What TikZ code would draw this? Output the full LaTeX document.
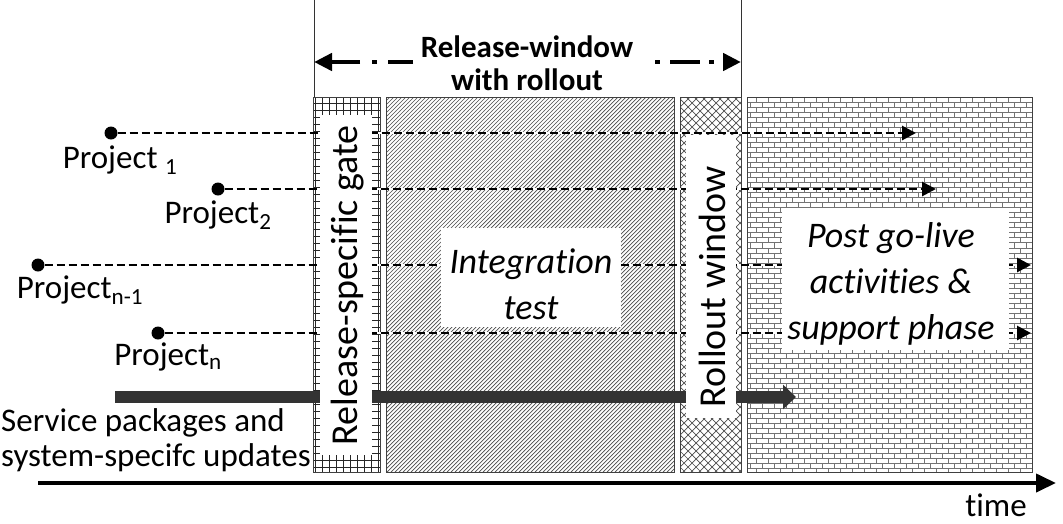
\documentclass[tikz,border=0pt]{standalone}
\usepackage{fontspec}
\setmainfont[Ligatures={NoCommon}]{Carlito}
\usetikzlibrary{patterns,arrows.meta}

\pgfdeclarepatternformonly{mygrid}{\pgfqpoint{-1pt}{-1pt}}{\pgfqpoint{8pt}{8pt}}{\pgfqpoint{7pt}{7pt}}{%
  \pgfsetlinewidth{0.8pt}%
  \pgfpathmoveto{\pgfqpoint{0pt}{0pt}}\pgfpathlineto{\pgfqpoint{7.1pt}{0pt}}%
  \pgfpathmoveto{\pgfqpoint{0pt}{0pt}}\pgfpathlineto{\pgfqpoint{0pt}{7.1pt}}%
  \pgfusepath{stroke}}
\pgfdeclarepatternformonly{myhatch}{\pgfqpoint{-1pt}{-1pt}}{\pgfqpoint{5pt}{5pt}}{\pgfqpoint{4pt}{4pt}}{%
  \pgfsetlinewidth{0.7pt}%
  \pgfpathmoveto{\pgfqpoint{0pt}{0pt}}\pgfpathlineto{\pgfqpoint{4.1pt}{4.1pt}}%
  \pgfusepath{stroke}}
\pgfdeclarepatternformonly{mycross}{\pgfqpoint{-1pt}{-1pt}}{\pgfqpoint{9pt}{9pt}}{\pgfqpoint{8pt}{8pt}}{%
  \pgfsetlinewidth{0.7pt}%
  \pgfpathmoveto{\pgfqpoint{0pt}{0pt}}\pgfpathlineto{\pgfqpoint{8.1pt}{8.1pt}}%
  \pgfpathmoveto{\pgfqpoint{0pt}{8pt}}\pgfpathlineto{\pgfqpoint{8.1pt}{-0.1pt}}%
  \pgfusepath{stroke}}
\pgfdeclarepatternformonly{mybricks}{\pgfqpoint{-1pt}{-1pt}}{\pgfqpoint{13pt}{11pt}}{\pgfqpoint{12pt}{10pt}}{%
  \pgfsetlinewidth{1pt}%
  \pgfpathmoveto{\pgfqpoint{0pt}{0pt}}\pgfpathlineto{\pgfqpoint{12.1pt}{0pt}}%
  \pgfpathmoveto{\pgfqpoint{0pt}{5pt}}\pgfpathlineto{\pgfqpoint{12.1pt}{5pt}}%
  \pgfpathmoveto{\pgfqpoint{0pt}{0pt}}\pgfpathlineto{\pgfqpoint{0pt}{5pt}}%
  \pgfpathmoveto{\pgfqpoint{6pt}{5pt}}\pgfpathlineto{\pgfqpoint{6pt}{10pt}}%
  \pgfusepath{stroke}}

\begin{document}
\begin{tikzpicture}[x=1pt,y=-1pt,
  phase/.style={draw=black!75, line width=0.8pt, anchor=north west, inner sep=0pt},
  whitebox/.style={fill=white, draw=none, anchor=north west, inner sep=0pt},
  proj/.style={line width=2.8pt, dash pattern=on 8pt off 4pt,
     preaction={draw=white, line width=2.8pt, solid, -, shorten >=6pt},
     -{Triangle[length=14pt,width=14pt]}},
  dotnode/.style={circle, fill=black, inner sep=0pt, minimum size=13pt},
  lbl/.style={font=\fontsize{33}{35}\selectfont, inner sep=0pt},
  rot/.style={font=\fontsize{38}{40}\selectfont, inner sep=0pt, rotate=90},
  big/.style={font=\fontsize{36}{46}\selectfont\itshape, align=center, inner sep=0pt},
  rwarrow/.style={line width=4.5pt, -{Triangle[length=18pt,width=17pt]}},
]
\useasboundingbox (0,0) rectangle (1063,523);

% phase boxes
\node[phase, pattern=mygrid, pattern color=black!85, minimum width=67pt, minimum height=375pt] (gate) at (313,97) {};
\node[phase, pattern=myhatch, pattern color=black!70, minimum width=288pt, minimum height=375pt] (integ) at (386,97) {};
\node[phase, pattern=mycross, pattern color=black!70, minimum width=61pt, minimum height=375pt] (roll) at (680,97) {};
\node[phase, pattern=mybricks, pattern color=black!55, minimum width=285pt, minimum height=375pt] (post) at (747,97) {};

% vertical markers
\coordinate (vlt) at (314,0);
\coordinate (vlb) at (314,97);
\coordinate (vrt) at (741,0);
\coordinate (vrb) at (741,97);
\draw[black!80, line width=0.8pt] (vlt) -- (vlb);
\draw[black!80, line width=0.8pt] (vrt) -- (vrb);

% release window arrow (two halves around the title)
\coordinate (rwl) at (314,62);
\coordinate (rwr) at (741,62);
\coordinate (rwli) at (413,62);
\coordinate (rwri) at (655,62);
\draw[rwarrow, dash pattern=on 25pt off 11pt on 5pt off 12pt on 200pt] (rwli) -- (rwl);
\draw[rwarrow, dash pattern=on 5pt off 10pt on 30pt off 9pt on 5pt off 30pt] (rwri) -- (rwr);
\node[inner sep=0pt, align=center, font=\fontsize{31}{33}\selectfont\bfseries] (rwt) at (527,63) {Release-window\\with rollout};

% projects
\node[dotnode] (p1) at (111,133) {};
\node[dotnode] (p2) at (218,189) {};
\node[dotnode] (pn1) at (38,265) {};
\node[dotnode] (pn) at (158,333) {};
\coordinate (e1) at (916,133);
\coordinate (e2) at (936,189);
\coordinate (en1) at (1031,265);
\coordinate (en) at (1031,338);
\draw[proj] (p1) -- (e1);
\draw[proj] (p2) -- (e2);
\draw[proj] (pn1) -- (en1);
\draw[proj] (pn.east) -- (en |- pn);

\node[lbl] (l1) at (120,160) {Project \textsubscript{1}};
\node[lbl] (l2) at (218,215) {Project\textsubscript{2}};
\node[lbl] (ln1) at (80,290) {Project\textsubscript{n-1}};
\node[lbl] (ln) at (168,357) {Project\textsubscript{n}};

% service packages bar
\coordinate (sps) at (115,397);
\coordinate (spe) at (796,397);
\draw[line width=12pt, black!80, -{Triangle[length=13pt,width=24pt]}] (sps) -- (spe);
\node[lbl, align=left, anchor=west, font=\fontsize{33}{35}\selectfont] (spt) at (1,440) {Service packages and\\system-specifc updates};

% white label boxes
\node[whitebox, minimum width=52pt, minimum height=340pt] (gatew) at (320,115) {};
\node[whitebox, minimum width=180pt, minimum height=99pt] (integw) at (441,228) {};
\node[whitebox, minimum width=50pt, minimum height=283pt] (rollw) at (686,135) {};
\node[whitebox, minimum width=227pt, minimum height=142pt] (postw) at (782,208) {};

\node[rot] (gatet) at ([xshift=1pt]gatew.center) {Release-specific gate};
\node[big] (integt) at (531,284) {Integration\\test};
\node[rot] (rollt) at ([xshift=1pt,yshift=-10pt]rollw.center) {Rollout window};
\node[big] (postt) at (891,284) {Post go-live\\activities \&\\support phase};

% time axis
\coordinate (ts) at (38,483);
\coordinate (te) at (1056,483);
\draw[line width=4pt, -{Triangle[length=20pt,width=18pt]}] (ts) -- (te);
\node[lbl, anchor=base] (time) at (996,516) {time};
\end{tikzpicture}
\end{document}
